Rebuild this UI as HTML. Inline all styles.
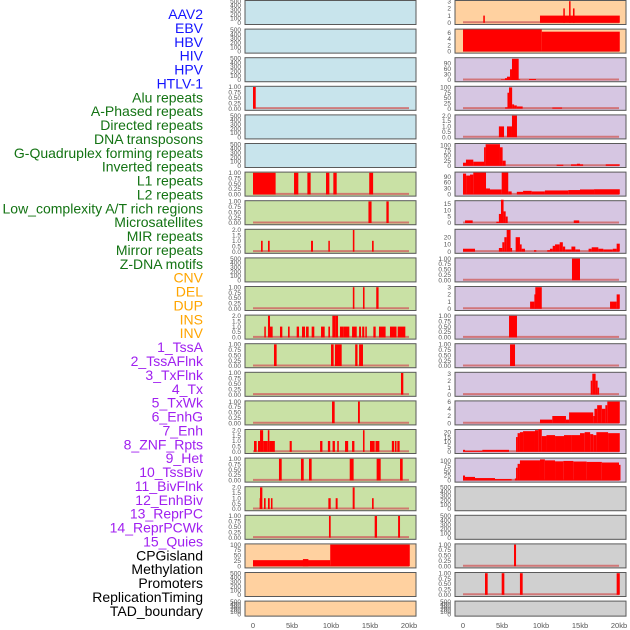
<!DOCTYPE html>
<html><head><meta charset="utf-8"><style>
html,body{margin:0;padding:0;background:#fff;}
svg{display:block;}
text{font-family:"Liberation Sans",sans-serif;}
</style></head><body>
<svg id="chart" width="630" height="630" xmlns="http://www.w3.org/2000/svg"></svg>
<script>
const trackLabels = ["AAV2","EBV","HBV","HIV","HPV","HTLV-1","Alu repeats","A-Phased repeats","Directed repeats","DNA transposons","G-Quadruplex forming repeats","Inverted repeats","L1 repeats","L2 repeats","Low_complexity A/T rich regions","Microsatellites","MIR repeats","Mirror repeats","Z-DNA motifs","CNV","DEL","DUP","INS","INV","1_TssA","2_TssAFlnk","3_TxFlnk","4_Tx","5_TxWk","6_EnhG","7_Enh","8_ZNF_Rpts","9_Het","10_TssBiv","11_BivFlnk","12_EnhBiv","13_ReprPC","14_ReprPCWk","15_Quies","CPGisland","Methylation","Promoters","ReplicationTiming","TAD_boundary"];
const labelGroups = ["v","v","v","v","v","v","r","r","r","r","r","r","r","r","r","r","r","r","r","s","s","s","s","s","c","c","c","c","c","c","c","c","c","c","c","c","c","c","c","k","k","k","k","k"];
const xTickValues = [0,5,10,15,20];
const xTickLabels = ["0","5kb","10kb","15kb","20kb"];

const ticks500 = [0,100,200,300,400,500];
const ticks1 = [0,0.25,0.5,0.75,1];
const ticks2 = [0,0.5,1,1.5,2];
const ticks3 = [0,1,2,3];
const ticks6 = [0,2,4,6];
const ticks90 = [0,30,60,90];
const ticks100 = [0,25,50,75,100];
const ticks15 = [0,5,10,15];
const ticks20 = [0,10,20];
const ticks20b = [0,5,10,15,20];

const barsL3 = [[0,0.35,1]];
const barsL6 = [[0,2.9,1],[5.26,5.81,1],[6.97,7.39,1],[9.36,9.79,1],[10.3,10.73,1],[14.9,15.4,1]];
const barsL7 = [[14.8,15.2,1],[17.1,17.4,1]];
const barsL8 = [[1.03,1.24,1],[1.92,2.14,1],[7.44,7.69,1],[9.66,9.83,1],[12.8,13.0,2],[15.26,15.47,1]];
const barsL10 = [[12.8,13.0,1],[14.1,14.3,1],[15.8,16.1,1]];
const barsL11 = [[1.45,1.62,1],[1.92,2.18,2],[2.18,2.52,1],[3.46,3.76,1],[4.49,4.7,1],[5.6,5.9,1],[6.28,6.67,1],[6.8,7.14,1],[7.52,7.86,1],[8.72,9.19,1],[9.66,9.87,1],[10.17,10.6,2],[10.6,10.9,2],[11.15,11.58,1],[11.58,12.35,1],[12.7,13.3,1],[13.6,13.85,1],[14.0,14.27,1],[14.4,14.57,1],[15.43,15.73,1],[16.15,17.0,1],[17.56,18.4,1],[18.55,19.53,1]];
const barsL12 = [[2.69,3.03,1],[10.0,10.34,1],[10.5,11.37,1],[13.1,13.4,1],[13.6,14.1,1]];
const barsL13 = [[18.97,19.27,1]];
const barsL14 = [[10.13,10.47,1],[13.46,13.7,1]];
const barsL15 = [[0.13,0.47,1],[0.64,0.9,1],[0.9,1.3,2],[1.3,1.9,1],[1.9,2.1,2],[2.1,2.8,1],[4.7,4.97,1],[8.6,8.9,1],[9.6,9.9,1],[10.2,10.5,1],[10.8,11.0,1],[11.8,12.2,1],[12.7,13.0,1],[14.1,14.3,2],[15.0,15.6,1],[15.7,16.2,1],[17.8,18.1,1],[18.2,18.4,1],[18.5,18.8,1]];
const barsL16 = [[3.33,3.68,1],[6.15,6.5,1],[7.18,7.52,1],[12.4,12.9,1],[15.85,16.37,1],[18.85,19.19,1]];
const barsL17 = [[0.85,0.9,1],[0.9,1.2,2],[1.41,1.62,1],[1.92,2.14,1],[2.3,2.5,1],[9.66,9.96,1],[10.6,10.85,1],[12.78,13.03,2],[15.26,15.47,1]];
const barsL18 = [[9.74,9.96,1],[15.6,15.9,1],[18.6,18.85,1]];
const barsL19 = [[0,9.9,28],[6.4,7.1,33],[9.9,20.1,100]];

const barsR0 = [[2.6,2.8,1],[9.87,20.1,1],[12.86,13.0,2],[13.6,13.76,3],[14.1,14.3,2]];
const barsR1 = [[0,10.1,7],[10.1,20.1,6.3]];
const barsR2 = [[4.87,5.38,3],[5.38,5.64,10],[5.64,6.03,18],[6.03,6.28,58],[6.28,7.14,115],[7.14,7.3,3],[8.46,9.36,5]];
const barsR3 = [[5.4,5.7,6],[5.7,5.9,75],[5.9,6.3,100],[6.3,6.55,20],[6.55,6.9,15],[6.9,7.65,10],[11.45,12.7,5]];
const barsR4 = [[4.6,5.26,1],[5.64,6.28,1],[6.28,6.92,2]];
const barsR5 = [[0,0.38,15],[0.38,1.32,30],[1.32,2.7,20],[2.7,2.9,90],[2.9,4.74,105],[4.74,5.08,90],[5.08,5.47,25],[12.0,12.86,5],[13.85,14.6,7],[14.6,15.0,10],[15.0,15.4,7],[18.3,20.1,7]];
const barsR6 = [[0,0.4,105],[0.4,0.9,95],[0.9,1.32,100],[1.32,2.95,110],[2.95,3.46,30],[3.46,4.96,25],[4.96,5.8,110],[5.8,6.24,15],[6.9,7.7,13],[7.7,8.8,18],[8.8,10.5,15],[10.5,13.5,20],[13.5,15.0,22],[15.0,16.8,25],[16.8,20.1,26]];
const barsR7 = [[0.26,1.24,2],[4.27,4.6,1],[4.6,4.87,7],[4.87,5.2,18],[5.2,5.47,9],[5.47,5.73,5],[14.2,14.9,2]];
const barsR8 = [[0,1.54,4],[4.6,5.04,5],[5.04,5.3,13],[5.3,5.6,20],[5.6,6.1,30],[6.1,6.28,5],[6.75,7.3,20],[7.3,7.52,10],[7.52,7.95,4],[9.1,9.4,2],[10.8,11.15,2],[11.15,11.5,4],[11.5,11.8,8],[11.8,12.4,10],[12.4,12.8,13],[12.8,13.1,7],[13.1,13.9,3],[13.9,14.4,7],[14.4,15.0,3],[16.1,16.5,4],[16.5,17.35,6],[17.35,17.99,4],[17.99,19.2,3],[19.2,19.7,4],[19.7,20.1,11]];
const barsR9 = [[13.97,15.0,1]];
const barsR10 = [[8.6,9.15,1],[9.15,9.27,2],[9.27,10.1,3],[18.85,19.7,1],[19.7,20.1,2]];
const barsR11 = [[5.9,6.92,1]];
const barsR12 = [[6.03,6.67,1]];
const barsR13 = [[16.37,16.58,2],[16.58,17.0,3],[17.0,17.26,2],[17.26,17.44,1]];
const barsR14 = [[9.87,11.45,1],[11.45,13.2,2],[13.2,13.6,1],[13.6,16.7,3],[16.7,16.85,2],[16.85,17.2,4],[17.2,17.8,5],[17.8,18.25,4],[18.25,18.5,5],[18.5,20.1,6]];
const barsR15 = [[0,0.26,2],[0.26,2.48,1],[2.48,5.9,2],[6.8,7.0,15],[7.0,7.3,19],[7.3,7.7,20],[7.7,9.23,21],[9.23,9.66,22],[9.66,10.1,23],[10.1,10.7,16],[10.7,11.8,17],[11.8,12.95,16],[12.95,13.9,17],[13.9,15.0,17],[15.0,15.6,19],[15.6,16.3,20],[16.3,16.7,18],[16.7,17.1,17],[17.1,18.6,20],[18.6,20.1,19]];
const barsR16 = [[0,0.26,25],[0.26,1.54,18],[1.54,4.1,12],[4.1,6.24,7],[6.65,6.8,10],[6.8,7.0,65],[7.0,7.3,85],[7.3,9.87,103],[9.87,10.5,108],[10.5,11.8,103],[11.8,12.86,98],[12.86,14.15,100],[14.15,15.85,97],[15.85,17.8,95],[17.8,20.0,92],[20.0,20.1,80]];
const barsR19 = [[6.54,6.8,1]];
const barsR20 = [[2.82,3.16,1],[4.96,5.3,1],[7.3,7.65,1],[19.7,20.1,1]];

const colBlue="#c8e4ec", colGreen="#c9e1a5", colOrange="#ffd1a0", colPurple="#d6c6e2", colGrey="#d0d0d0";
const panels = [
 {c:0,r:0,bg:colBlue,t:ticks500,max:500,b:null},
 {c:0,r:1,bg:colBlue,t:ticks500,max:500,b:null},
 {c:0,r:2,bg:colBlue,t:ticks500,max:500,b:null},
 {c:0,r:3,bg:colBlue,t:ticks1,max:1,b:barsL3},
 {c:0,r:4,bg:colBlue,t:ticks500,max:500,b:null},
 {c:0,r:5,bg:colBlue,t:ticks500,max:500,b:null},
 {c:0,r:6,bg:colGreen,t:ticks1,max:1,b:barsL6},
 {c:0,r:7,bg:colGreen,t:ticks1,max:1,b:barsL7},
 {c:0,r:8,bg:colGreen,t:ticks2,max:2,b:barsL8},
 {c:0,r:9,bg:colGreen,t:ticks500,max:500,b:null},
 {c:0,r:10,bg:colGreen,t:ticks1,max:1,b:barsL10},
 {c:0,r:11,bg:colGreen,t:ticks2,max:2,b:barsL11},
 {c:0,r:12,bg:colGreen,t:ticks1,max:1,b:barsL12},
 {c:0,r:13,bg:colGreen,t:ticks1,max:1,b:barsL13},
 {c:0,r:14,bg:colGreen,t:ticks1,max:1,b:barsL14},
 {c:0,r:15,bg:colGreen,t:ticks2,max:2,b:barsL15},
 {c:0,r:16,bg:colGreen,t:ticks1,max:1,b:barsL16},
 {c:0,r:17,bg:colGreen,t:ticks2,max:2,b:barsL17},
 {c:0,r:18,bg:colGreen,t:ticks1,max:1,b:barsL18},
 {c:0,r:19,bg:colOrange,t:ticks100,max:100,b:barsL19},
 {c:0,r:20,bg:colOrange,t:ticks500,max:500,b:null},
 {c:0,r:21,bg:colOrange,t:ticks500,max:500,b:null},
 {c:1,r:0,bg:colOrange,t:ticks3,max:3,b:barsR0},
 {c:1,r:1,bg:colOrange,t:ticks6,max:6.9,b:barsR1},
 {c:1,r:2,bg:colPurple,t:ticks90,max:117,b:barsR2},
 {c:1,r:3,bg:colPurple,t:ticks100,max:102,b:barsR3},
 {c:1,r:4,bg:colPurple,t:ticks2,max:2,b:barsR4},
 {c:1,r:5,bg:colPurple,t:ticks100,max:105,b:barsR5},
 {c:1,r:6,bg:colPurple,t:ticks90,max:109,b:barsR6},
 {c:1,r:7,bg:colPurple,t:ticks15,max:16.7,b:barsR7},
 {c:1,r:8,bg:colPurple,t:ticks20,max:30,b:barsR8},
 {c:1,r:9,bg:colPurple,t:ticks1,max:1,b:barsR9},
 {c:1,r:10,bg:colPurple,t:ticks3,max:3,b:barsR10},
 {c:1,r:11,bg:colPurple,t:ticks1,max:1,b:barsR11},
 {c:1,r:12,bg:colPurple,t:ticks1,max:1,b:barsR12},
 {c:1,r:13,bg:colPurple,t:ticks3,max:3.1,b:barsR13},
 {c:1,r:14,bg:colPurple,t:ticks6,max:6,b:barsR14},
 {c:1,r:15,bg:colPurple,t:ticks20b,max:22,b:barsR15},
 {c:1,r:16,bg:colPurple,t:ticks100,max:111,b:barsR16},
 {c:1,r:17,bg:colGrey,t:ticks500,max:500,b:null},
 {c:1,r:18,bg:colGrey,t:ticks500,max:500,b:null},
 {c:1,r:19,bg:colGrey,t:ticks1,max:1,b:barsR19},
 {c:1,r:20,bg:colGrey,t:ticks1,max:1,b:barsR20},
 {c:1,r:21,bg:colGrey,t:ticks500,max:500,b:null}
];

const NS="http://www.w3.org/2000/svg";
const svg=document.getElementById("chart");
function mk(tag,attrs,parent){const e=document.createElementNS(NS,tag);for(const k in attrs)e.setAttribute(k,attrs[k]);(parent||svg).appendChild(e);return e;}

const colLeft=[245,455], colW=171, x0Off=8, kbPx=7.8;
function xScale(c,kb){return colLeft[c]+x0Off+kb*kbPx;}
function rowTop(r){return r*28.6;}
function rowH(r){return r===21?15:24;}
function yScale(p,v){const top=rowTop(p.r)+1.2,bot=rowTop(p.r)+rowH(p.r)-1.2;return bot-(v/p.max)*(bot-top);}
function fmt(t,v){
  if(t===ticks1) return v.toFixed(2);
  if(t===ticks2) return v.toFixed(1);
  return String(v);
}

const labelColors={v:"#1414ff",r:"#137313",s:"#ffa500",c:"#a020f0",k:"#000000"};
trackLabels.forEach((name,i)=>{
  const t=mk("text",{x:203,y:(19+i*13.88).toFixed(1),"text-anchor":"end","font-size":"14",fill:labelColors[labelGroups[i]]});
  t.textContent=name;
  
  
});

panels.forEach(p=>{
  const g=mk("g",{});
  
  
  const top=rowTop(p.r),h=rowH(p.r),left=colLeft[p.c];
  const sh=mk("rect",{x:left+0.5,y:top+1,width:colW,height:h,fill:"#bbb"},g);
  
  
  const bg=mk("rect",{x:left,y:top+0.5,width:colW,height:h,fill:p.bg,stroke:"#5a5a5a","stroke-width":"1"},g);
  
  
  const tx=p.c===0?241:451;
  p.t.forEach(v=>{
    const tt=mk("text",{x:tx,y:(yScale(p,v)+2.2).toFixed(1),"text-anchor":"end","font-size":"6.5",fill:"#555"},g);
    tt.textContent=fmt(p.t,v);
    
    
  });
  if(p.b){
    const y0=yScale(p,0);
    const bl=mk("line",{x1:xScale(p.c,0),x2:xScale(p.c,20),y1:y0-0.5,y2:y0-0.5,stroke:"#d06060","stroke-width":"2","stroke-opacity":"0.8"},g);
    
    
    p.b.forEach(d=>{
      const x1=xScale(p.c,d[0]),x2=xScale(p.c,d[1]);
      const yv=yScale(p,d[2]);
      const w=Math.max(1.5,x2-x1);
      const r=mk("rect",{x:x1.toFixed(2),y:yv.toFixed(2),width:w.toFixed(2),height:(y0-yv).toFixed(2),fill:"#ff0000"},g);
      
      
    });
  }
});

[0,1].forEach(c=>{
  xTickValues.forEach((v,i)=>{
    const t=mk("text",{x:xScale(c,v),y:628,"text-anchor":"middle","font-size":"7.5",fill:"#555"});
    t.textContent=xTickLabels[i];
    
    
  });
});
</script>
</body></html>
